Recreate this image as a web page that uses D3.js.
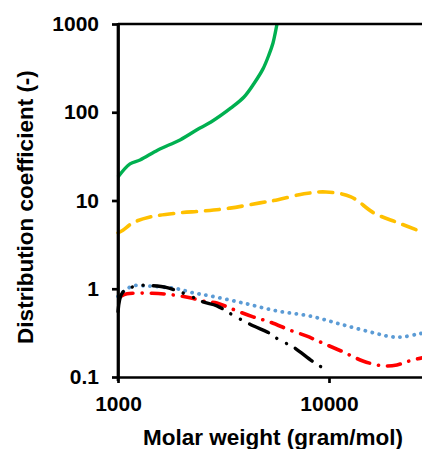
<!DOCTYPE html>
<html>
<head>
<meta charset="utf-8">
<script src="https://cdn.jsdelivr.net/npm/d3@7"></script>
<style>
  body { margin: 0; background: #fff; }
  svg { display: block; font-family: "Liberation Sans", Arial, sans-serif; }
  .axis text { font-size: 21px; font-weight: bold; fill: #000; }
  .axis path, .axis line { stroke: #000; stroke-width: 2.7; }
</style>
</head>
<body>
<svg id="chart" width="422" height="449"></svg>
<script>
// values
var xTicks = [1000, 10000];
var yTicks = [0.1, 1, 10, 100, 1000];

var greenMw = [1000, 1140, 1272, 1547, 1968, 2447, 2759, 3432, 3956, 4412, 4866, 5196, 5428, 5560, 5670];
var greenK  = [18.5, 26, 28.8, 37.4, 48.6, 66.4, 77.6, 112, 149, 212, 310, 450, 610, 790, 1000];

var orangeMw = [1000, 1055, 1178, 1418, 1904, 2529, 3393, 4710, 5730, 7610, 9680, 12700, 16350, 21240, 27600];
var orangeK  = [4.3, 4.6, 5.6, 6.5, 7.2, 7.6, 8.2, 9.4, 10.2, 11.9, 12.5, 11.0, 7.2, 5.6, 4.4];

var blueMw = [1000, 1056, 1178, 1314, 1581, 1903, 2266, 2728, 3910, 5660, 8130, 11640, 16840, 19840, 22420, 27000, 30000];
var blueK  = [0.82, 0.92, 1.08, 1.08, 1.05, 1.0, 0.9, 0.83, 0.69, 0.56, 0.49, 0.39, 0.31, 0.285, 0.285, 0.31, 0.32];

var redMw = [1030, 1103, 1230, 1448, 1763, 2194, 2640, 2944, 3470, 4367, 5250, 6520, 7860, 9050, 11640, 14470, 17860, 21000, 23380, 26400, 30000];
var redK  = [0.82, 0.875, 0.89, 0.89, 0.86, 0.79, 0.71, 0.69, 0.59, 0.48, 0.42, 0.34, 0.29, 0.25, 0.193, 0.152, 0.134, 0.137, 0.149, 0.161, 0.17];

var blackMw = [1000, 1056, 1244, 1465, 1707, 2193, 2527, 2944, 3470, 4367, 5150, 5850, 6740, 8400, 9670];
var blackK  = [0.55, 0.92, 1.08, 1.08, 1.03, 0.83, 0.71, 0.64, 0.51, 0.38, 0.32, 0.26, 0.22, 0.149, 0.121];

var series = [
  { mw: greenMw,  k: greenK,  color: "#00B050", dash: null,                  width: 3.4 },
  { mw: orangeMw, k: orangeK, color: "#FFC000", dash: "14,9",                width: 3.6 },
  { mw: blueMw,   k: blueK,   color: "#5B9BD5", dash: "0.1,7",               width: 3.8 },
  { mw: redMw,    k: redK,    color: "#FF0000", dash: "13,9,0.1,9",          width: 3.6 },
  { mw: blackMw,  k: blackK,  color: "#000000", dash: "21,10,0.1,11,0.1,10", width: 3.4 }
];

var svg = d3.select("#chart");
var plotLeft = 118, plotTop = 24, plotBottom = 377, decade = 211;

var x = d3.scaleLog().domain([1000, 30000]).range([plotLeft, plotLeft + decade * Math.log10(30)]);
var y = d3.scaleLog().domain([0.1, 1000]).range([plotBottom, plotTop]);

var plot = svg.append("g");
var line = d3.line()
    .x(function(d) { return x(d[0]); })
    .y(function(d) { return y(d[1]); })
    .curve(d3.curveCatmullRom.alpha(0.5));

series.forEach(function(s) {
  var pts = s.mw.map(function(m, i) { return [m, s.k[i]]; });
  plot.append("path")
      .attr("d", line(pts))
      .attr("fill", "none")
      .attr("stroke", s.color)
      .attr("stroke-width", s.width)
      .attr("stroke-linecap", s.dash ? "round" : "butt")
      .attr("stroke-dasharray", s.dash);
});

// top frame line
svg.append("line")
    .attr("x1", plotLeft).attr("x2", 422)
    .attr("y1", plotTop).attr("y2", plotTop)
    .attr("stroke", "#000").attr("stroke-width", 2.7);

svg.append("g")
    .attr("class", "axis")
    .attr("transform", "translate(" + plotLeft + ",0)")
    .call(d3.axisLeft(y).tickValues(yTicks).tickSize(6).tickSizeOuter(0)
      .tickPadding(13).tickFormat(function(d) { return String(d); }));

svg.append("g")
    .attr("class", "axis")
    .attr("transform", "translate(0," + plotBottom + ")")
    .call(d3.axisBottom(x).tickValues(xTicks).tickSize(6).tickSizeOuter(0)
      .tickPadding(13).tickFormat(function(d) { return String(d); }));

// extend the y axis line through the corner
svg.append("line")
    .attr("x1", plotLeft).attr("x2", plotLeft)
    .attr("y1", plotTop - 1).attr("y2", plotBottom + 4)
    .attr("stroke", "#000").attr("stroke-width", 2.7);

svg.append("text")
    .attr("x", 273).attr("y", 445)
    .attr("text-anchor", "middle")
    .style("font-size", "22.5px").style("font-weight", "bold")
    .text("Molar weight (gram/mol)");

svg.append("text")
    .attr("transform", "translate(33,207) rotate(-90)")
    .attr("text-anchor", "middle")
    .style("font-size", "22.5px").style("font-weight", "bold")
    .text("Distribution coefficient (-)");
</script>
</body>
</html>
